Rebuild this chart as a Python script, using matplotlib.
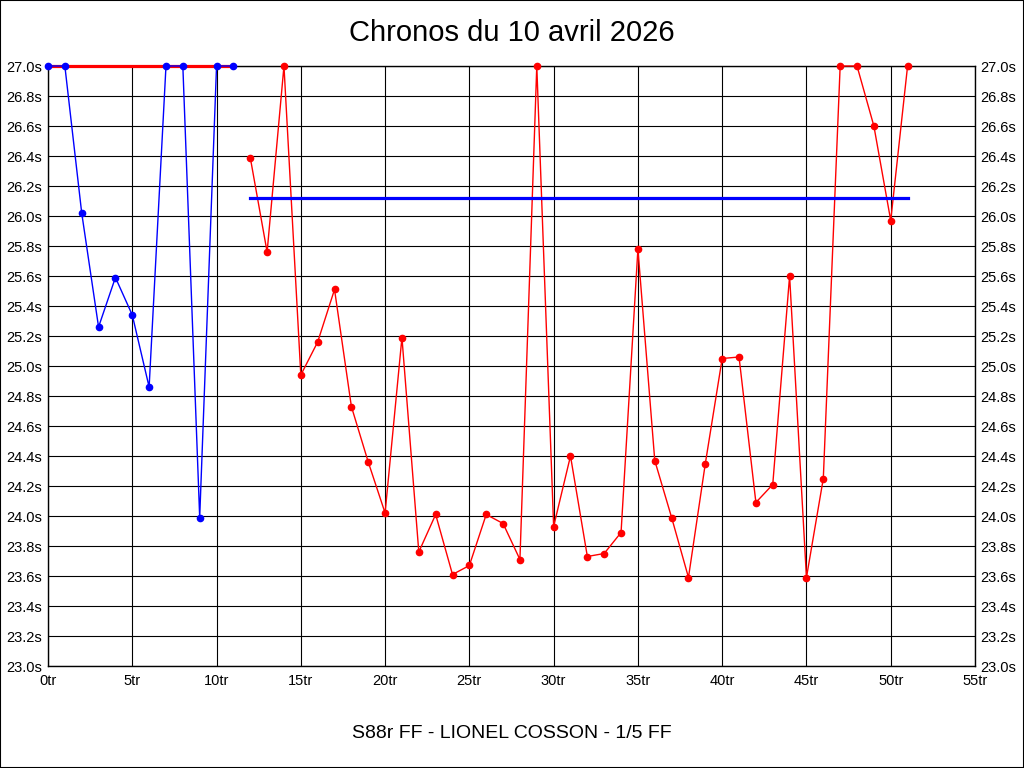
import matplotlib
matplotlib.use("Agg")
import matplotlib.pyplot as plt
from matplotlib.patches import Rectangle

plt.rcParams['font.family'] = ['Liberation Sans', 'DejaVu Sans']

# first session (blue)
laps_a = list(range(0, 12))
times_a = [27.0, 27.0, 26.02, 25.26, 25.59, 25.34, 24.86, 27.0, 27.0, 23.99, 27.0, 27.0]

# second session (red)
laps_b = list(range(12, 52))
times_b = [26.39, 25.76, 27.0, 24.94, 25.16, 25.51, 24.73, 24.36, 24.02, 25.19,
           23.76, 24.01, 23.61, 23.67, 24.01, 23.95, 23.71, 27.0, 23.93, 24.40,
           23.73, 23.75, 23.89, 25.78, 24.37, 23.99, 23.59, 24.35, 25.05, 25.06,
           24.09, 24.21, 25.60, 23.59, 24.25, 27.0, 27.0, 26.60, 25.97, 27.0]

# reference levels
ref_a = 27.0
ref_b = 26.12

title = "Chronos du 10 avril 2026"
subtitle = "S88r FF - LIONEL COSSON - 1/5 FF"
x_ticks = list(range(0, 56, 5))
y_ticks = [round(23.0 + 0.2 * i, 1) for i in range(21)]

fig = plt.figure(figsize=(10.24, 7.68), dpi=100)
fig.patches.append(Rectangle((0, 0), 1, 1, transform=fig.transFigure,
                             fill=False, edgecolor='black', linewidth=1.5))
ax = fig.add_axes([48 / 1024, 1 - 666 / 768, 927 / 1024, 600 / 768])

ax.plot([laps_a[0], laps_a[-1]], [ref_a, ref_a], color='#ff0000', lw=2.3,
        zorder=3, clip_on=False)
ax.plot(laps_a, times_a, color='#0000ff', lw=1.0, marker='o', ms=4.5,
        zorder=4, clip_on=False)
ax.plot(laps_b, times_b, color='#ff0000', lw=1.0, marker='o', ms=4.5,
        zorder=4, clip_on=False)
ax.plot([laps_b[0], laps_b[-1]], [ref_b, ref_b], color='#0000ff', lw=2.3, zorder=5)

ax.set_xlim(0, 55)
ax.set_ylim(23.0, 27.0)
ax.set_xticks(x_ticks)
ax.set_xticklabels([f"{v}tr" for v in x_ticks])
ax.set_yticks(y_ticks)
ax.set_yticklabels([f"{v:.1f}s" for v in y_ticks])
ax.tick_params(axis='y', which='both', left=False, right=False,
               labelleft=True, labelright=True, length=0, pad=4, labelsize=10.5)
ax.tick_params(axis='x', length=0, pad=6, labelsize=10.5)
ax.grid(True, color='black', linewidth=0.8)
ax.set_axisbelow(True)
for s in ax.spines.values():
    s.set_linewidth(1.0)

fig.text(0.5, 1 - 33 / 768, title, ha='center', va='center', fontsize=21)
fig.text(0.5, 1 - 733 / 768, subtitle, ha='center', va='center', fontsize=14)

fig.savefig("out.png", dpi=100)
